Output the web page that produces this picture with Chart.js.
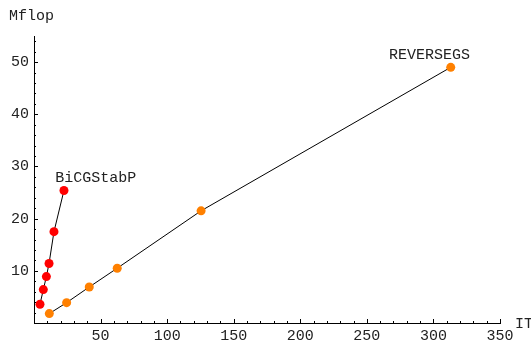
<!DOCTYPE html>
<html>
<head>
<meta charset="utf-8">
<script src="https://cdn.jsdelivr.net/npm/chart.js@4/dist/chart.umd.min.js"></script>
<style>
  html, body { margin: 0; padding: 0; background: #fff; }
  #wrap { width: 531px; height: 344px; }
</style>
</head>
<body>
<div id="wrap"><canvas id="mflopChart"></canvas></div>
<script>
const bicgIt = [4.5, 7, 9.3, 11.3, 15, 22.5];
const bicgMflop = [3.6, 6.4, 8.9, 11.4, 17.5, 25.4];
const revIt = [11.5, 24.5, 41.5, 62.5, 125.5, 313];
const revMflop = [1.8, 3.9, 6.9, 10.5, 21.5, 49.0];
const xTicks = [50, 100, 150, 200, 250, 300, 350];
const yTicks = [10, 20, 30, 40, 50];

const FONT = '"Liberation Mono", "DejaVu Sans Mono", monospace';

const toPoints = (xs, ys) => xs.map((x, i) => ({ x, y: ys[i] }));

// marcas hacia dentro + textos (ejes y nombres de series)
const decor = {
  id: 'decor',
  afterDraw(chart) {
    const c = chart.ctx;
    const xs = chart.scales.x, ys = chart.scales.y;
    const x0 = xs.getPixelForValue(0), y0 = ys.getPixelForValue(0);
    c.save();
    c.strokeStyle = '#000';
    c.lineWidth = 1;
    c.beginPath();
    for (let v = 10; v <= 350; v += 10) {
      const p = Math.round(xs.getPixelForValue(v)) + 0.5;
      const len = xTicks.includes(v) ? 4 : 2;
      c.moveTo(p, y0);
      c.lineTo(p, y0 - len);
    }
    for (let v = 2; v <= 54; v += 2) {
      const p = Math.round(ys.getPixelForValue(v)) + 0.5;
      const len = yTicks.includes(v) ? 4 : 2;
      c.moveTo(x0, p);
      c.lineTo(x0 + len, p);
    }
    c.stroke();

    c.fillStyle = '#222';
    c.font = '15px ' + FONT;
    c.textBaseline = 'middle';
    c.textAlign = 'center';
    c.fillText('BiCGStabP', xs.getPixelForValue(46.3), ys.getPixelForValue(27.8));
    c.fillText('REVERSEGS', xs.getPixelForValue(297), ys.getPixelForValue(51.3));
    c.textAlign = 'left';
    c.fillText('Mflop', 9, 16);
    c.fillText('IT', xs.right + 15, y0 + 1);
    c.restore();
  }
};

new Chart(document.getElementById('mflopChart'), {
  type: 'scatter',
  data: {
    datasets: [
      {
        label: 'BiCGStabP',
        data: toPoints(bicgIt, bicgMflop),
        showLine: true,
        borderColor: '#000',
        borderWidth: 1,
        pointBackgroundColor: '#ff0000',
        pointBorderWidth: 0,
        pointRadius: 4.5
      },
      {
        label: 'REVERSEGS',
        data: toPoints(revIt, revMflop),
        showLine: true,
        borderColor: '#000',
        borderWidth: 1,
        pointBackgroundColor: '#ff8000',
        pointBorderWidth: 0,
        pointRadius: 4.5
      }
    ]
  },
  options: {
    responsive: true,
    maintainAspectRatio: false,
    animation: false,
    layout: { padding: { top: 36, right: 31, left: 0, bottom: 0 } },
    plugins: {
      legend: { display: false },
      tooltip: { enabled: false }
    },
    scales: {
      x: {
        type: 'linear',
        min: 0,
        max: 350,
        afterBuildTicks: (s) => { s.ticks = xTicks.map(v => ({ value: v })); },
        afterFit: (s) => { s.height = 21; },
        grid: { display: false, drawTicks: false },
        border: { display: true, color: '#000', width: 1 },
        ticks: { color: '#222', font: { family: FONT, size: 15 }, padding: 4, maxRotation: 0 }
      },
      y: {
        type: 'linear',
        min: 0,
        max: 55,
        afterBuildTicks: (s) => { s.ticks = yTicks.map(v => ({ value: v })); },
        afterFit: (s) => { s.width = 34; },
        grid: { display: false, drawTicks: false },
        border: { display: true, color: '#000', width: 1 },
        ticks: { color: '#222', font: { family: FONT, size: 15 }, padding: 5 }
      }
    }
  },
  plugins: [decor]
});
</script>
</body>
</html>
